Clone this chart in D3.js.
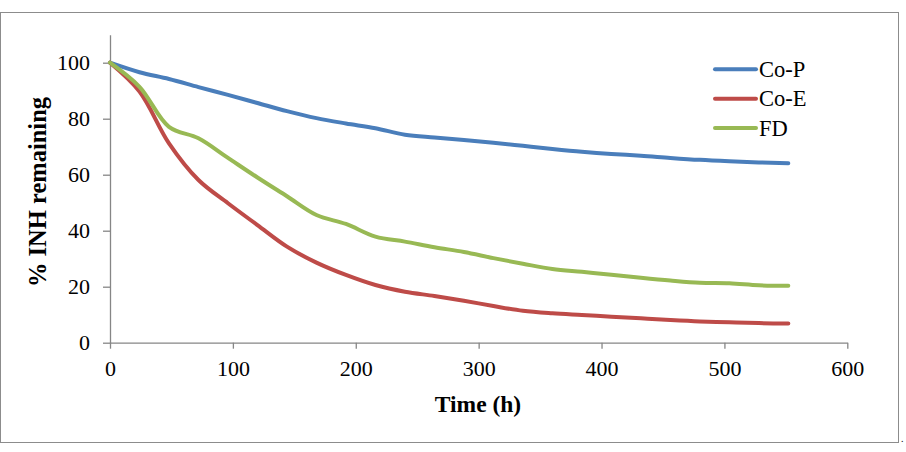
<!DOCTYPE html>
<html>
<head>
<meta charset="utf-8">
<script src="https://cdn.jsdelivr.net/npm/d3@7"></script>
<style>
  body { margin: 0; background: #fff; }
  svg { display: block; font-family: "Liberation Serif", "Times New Roman", serif; }
</style>
</head>
<body>
<svg width="906" height="452"></svg>
<script>
// sampling times (h)
const hours = [0, 24, 48, 72, 96, 120, 144, 168, 192, 216, 240, 264, 288, 312, 336, 360, 384, 408, 432, 456, 480, 504, 528, 552];

// % INH remaining
const coP = [100, 96.6, 94.2, 91.3, 88.5, 85.6, 82.7, 80.2, 78.3, 76.6, 74.3, 73.3, 72.4, 71.4, 70.3, 69.2, 68.2, 67.4, 66.8, 66.0, 65.3, 64.8, 64.4, 64.1];
const coE = [100, 89.7, 71.2, 58.1, 49.8, 42.0, 34.3, 28.6, 24.2, 20.6, 18.2, 16.7, 15.0, 13.1, 11.4, 10.5, 9.9, 9.3, 8.7, 8.1, 7.6, 7.3, 7.0, 6.9];
const fd = [100, 91.4, 77.1, 73.0, 66.0, 59.0, 52.3, 45.6, 42.4, 37.9, 36.1, 34.1, 32.4, 30.2, 28.2, 26.3, 25.3, 24.3, 23.2, 22.2, 21.4, 21.2, 20.5, 20.3];

const seriesNames = ["Co-P", "Co-E", "FD"];
const seriesColors = ["#4A7EBB", "#BE4B48", "#98B954"];
const xTicks = [0, 100, 200, 300, 400, 500, 600];
const yTicks = [0, 20, 40, 60, 80, 100];

(function () {
  const svg = d3.select("svg");

  // outer frame
  svg.append("rect")
    .attr("x", 0.5).attr("y", 12.5)
    .attr("width", 898).attr("height", 430)
    .attr("fill", "none").attr("stroke", "#8c8c8c");
  svg.append("text")
    .attr("x", 901).attr("y", 442)
    .attr("font-size", 10).text(".");

  const x = d3.scaleLinear().domain([0, 600]).range([110, 847.3]);
  const y = d3.scaleLinear().domain([0, 110]).range([342.7, 34.7]);

  const axisColor = "#868686";

  const xAxis = svg.append("g")
    .attr("transform", `translate(0,${y(0)})`)
    .call(d3.axisBottom(x).tickValues(xTicks).tickSize(6).tickSizeOuter(0).tickPadding(12));
  const yAxis = svg.append("g")
    .attr("transform", `translate(${x(0)},0)`)
    .call(d3.axisLeft(y).tickValues(yTicks).tickSize(7).tickSizeOuter(0).tickPadding(13));

  [xAxis, yAxis].forEach(g => {
    g.select(".domain").attr("stroke", axisColor).attr("stroke-width", 1.3);
    g.selectAll(".tick line").attr("stroke", axisColor).attr("stroke-width", 1.3);
    g.selectAll(".tick text")
      .attr("fill", "#000")
      .attr("font-size", 22)
      .attr("font-family", "Liberation Serif, Times New Roman, serif");
  });
  yAxis.selectAll(".tick text").attr("dy", "0.33em");

  // axis titles
  svg.append("text")
    .attr("x", 478).attr("y", 412)
    .attr("text-anchor", "middle")
    .attr("font-size", 23.5).attr("font-weight", "bold")
    .text("Time (h)");
  svg.append("text")
    .attr("transform", "translate(46,192) rotate(-90)")
    .attr("text-anchor", "middle")
    .attr("font-size", 24.5).attr("font-weight", "bold")
    .text("% INH remaining");

  const data = [coP, coE, fd];
  const line = d3.line()
    .x((d, i) => x(hours[i]))
    .y(d => y(d))
    .curve(d3.curveCatmullRom.alpha(0.5));

  svg.append("g").selectAll("path")
    .data(data)
    .enter().append("path")
    .attr("d", line)
    .attr("fill", "none")
    .attr("stroke", (d, i) => seriesColors[i])
    .attr("stroke-width", 4)
    .attr("stroke-linecap", "round")
    .attr("stroke-linejoin", "round");

  // legend
  const legend = svg.append("g")
    .selectAll("g")
    .data(seriesNames)
    .enter().append("g")
    .attr("transform", (d, i) => `translate(715,${69.3 + i * 29.4})`);
  legend.append("line")
    .attr("x1", 0).attr("x2", 41)
    .attr("stroke", (d, i) => seriesColors[i])
    .attr("stroke-width", 4)
    .attr("stroke-linecap", "round");
  legend.append("text")
    .attr("x", 44).attr("y", 7.5)
    .attr("font-size", 22.5)
    .text(d => d);
}());
</script>
</body>
</html>
